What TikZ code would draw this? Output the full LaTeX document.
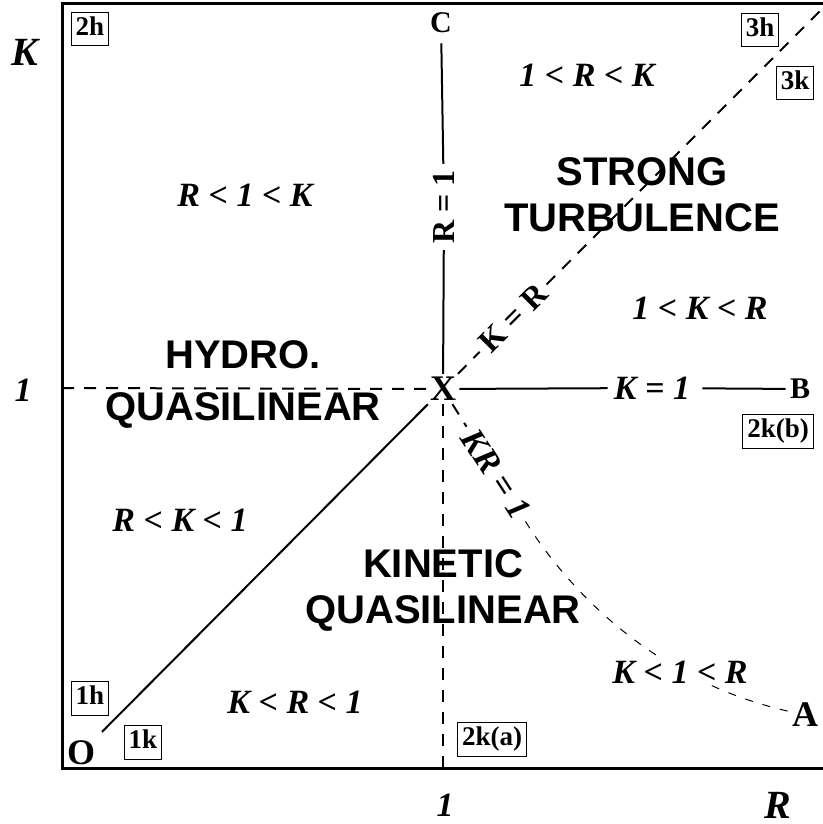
\documentclass[tikz,border=0pt]{standalone}
\usepackage{fontspec}
\setmainfont{Liberation Serif}
\setsansfont{Liberation Sans}
\usetikzlibrary{positioning}

\begin{document}
\begin{tikzpicture}[
  x=0.5pt, y=-0.5pt,
  line cap=butt, line join=miter,
  frm/.style  = {line width=1.5pt},
  bdry/.style = {line width=1pt},
  dsh/.style  = {line width=1pt, dash pattern=on 6pt off 5pt},
  thdsh/.style = {line width=0.5pt, dash pattern=on 4pt off 5pt},
  pnt/.style  = {font=\fontsize{15}{17}\selectfont\bfseries, inner sep=2pt},
  pntbig/.style = {font=\fontsize{18}{20}\selectfont\bfseries, inner sep=1.5pt},
  lin/.style  = {font=\fontsize{16}{18}\selectfont\bfseries, inner sep=3pt},
  linit/.style = {font=\fontsize{17}{19}\selectfont\bfseries\itshape, inner sep=3pt},
  cond/.style = {font=\fontsize{17}{19}\selectfont\bfseries\itshape},
  rgn/.style  = {font=\fontsize{20}{23}\selectfont\sffamily\bfseries, align=center},
  tag/.style  = {draw, line width=0.4pt, font=\fontsize{13.5}{15}\selectfont\bfseries,
                 inner xsep=2.3pt, inner ysep=2.3pt, text height=9.5pt, text depth=2.8pt},
  axl/.style  = {font=\fontsize{20}{22}\selectfont\bfseries\itshape, inner sep=1pt},
  axn/.style  = {font=\fontsize{17}{19}\selectfont\bfseries\itshape, inner sep=1pt}
]
\useasboundingbox (0,0) rectangle (823,824);

% frame
\coordinate (ftr) at (823,4);
\coordinate (ftl) at (62,4);
\coordinate (fbl) at (62,768);
\coordinate (fbr) at (823,768);
\draw[frm] (ftr) -- (ftl) -- (fbl) -- (fbr);

% points
\node[pnt] (C) at (441,23) {C};
\node[pntbig] (X) at (443,389) {X};
\node[pnt] (B) at (800,389) {B};
\node[pntbig] (A) at (805,715) {A};
\node[pntbig] (O) at (81,753) {O};

% boundary labels
\node[lin, rotate=90] (R1) at (444,207) {R = 1};
\node[linit] (K1) at (652,388) {K = 1};
\node[lin, rotate=45] (KeqR) at (513,318) {K = R};
\node[linit, rotate=-57] (KR1) at (496,474) {KR = 1};

\coordinate (lx) at (62,388);
\coordinate (bx) at (443,768);
\coordinate (kre) at (823,8);

% boundaries
\draw[bdry, shorten <=3pt] (C) -- (R1);
\draw[bdry] (R1) -- (X);
\draw[bdry] (X) -- (K1);
\draw[bdry, shorten <=3pt] (K1) -- (B);
\draw[bdry, shorten <=4pt] (O) -- (X);
\draw[dsh] (lx) -- (X);
\draw[dsh] (X) -- (bx);
\draw[dsh] (X) -- (KeqR);
\draw[dsh] (KeqR) -- (kre);
\draw[dsh] (X) -- (KR1);
\draw[thdsh] (KR1) .. controls (565,585) and (650,680) .. (A);

% regions
\node[cond] (c1) at (587,75) {1 < R < K};
\node[cond] (c2) at (245,195) {R < 1 < K};
\node[cond] (c3) at (700,308) {1 < K < R};
\node[cond] (c4) at (180,520) {R < K < 1};
\node[cond, fill=white, inner sep=1pt] (c5) at (680,672) {K < 1 < R};
\node[cond] (c6) at (295,702) {K < R < 1};

\node[rgn] (strong) at (642,195) {STRONG\\TURBULENCE};
\node[rgn] (hydro) at (243,384) {HYDRO.\\[3pt]QUASILINEAR};
\node[rgn] (kin) at (443,590) {KINETIC\\QUASILINEAR};

% axes
\node[axl] (kax) at (25,52) {K};
\node[axn] (kone) at (23,390) {1};
\node[axn] (rone) at (445,805) {1};
\node[axl] (rax) at (778,805) {R};

% tags
\node[tag] (t2h) at (90,29) {2h};
\node[tag] (t3h) at (760,30) {3h};
\node[tag] (t3k) at (795,83) {3k};
\node[tag] (t2kb) at (778,431) {2k(b)};
\node[tag] (t1h) at (90,698) {1h};
\node[tag] (t1k) at (143,742) {1k};
\node[tag] (t2ka) at (492,739) {2k(a)};

\end{tikzpicture}
\end{document}
